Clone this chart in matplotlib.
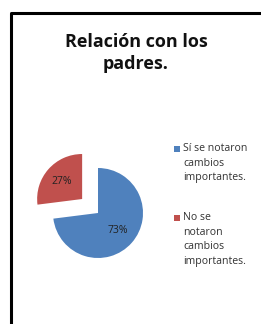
import matplotlib.pyplot as plt
from matplotlib.patches import Rectangle
from matplotlib.lines import Line2D

W, H = 261, 324

title = 'Relación con los\npadres.'
labels = ['Sí se notaron\ncambios\nimportantes.', 'No se\nnotaron\ncambios\nimportantes.']
values = [73, 27]
colors = ['#4F81BD', '#C0504D']
explode = [0, 0.47]

plt.rcParams['font.family'] = ['Open Sans', 'DejaVu Sans']

fig = plt.figure(figsize=(W / 100, H / 100), dpi=100)

# frame (only left and top edges visible in the crop)
fx, fy = 11 / W, 1 - 13 / H
fig.add_artist(Line2D([fx, fx, 1.01], [-0.01, fy, fy], color='black', lw=2.2))

fig.text(136 / W, 1 - 53 / H, title, ha='center', va='center', fontsize=13,
         fontweight='bold', linespacing=1.3, color='#111111')

# pie centred at (98, 213) px, radius ~45 px
r = 45
ax = fig.add_axes([(98 - 2 * r) / W, (H - 213 - 2 * r) / H, 4 * r / W, 4 * r / H])
wedges, texts, autotexts = ax.pie(values, colors=colors, explode=explode, startangle=90,
                                  counterclock=False, autopct='%1.0f%%', pctdistance=0.6,
                                  textprops=dict(fontsize=7.5, color='#222222'))
ax.set_xlim(-2, 2)
ax.set_ylim(-2, 2)
ax.set_aspect('equal')
ax.axis('off')

# legend, drawn by hand to keep the square on the first line
tops = [149, 218]
for lab, col, y in zip(labels, colors, tops):
    fig.add_artist(Rectangle((174 / W, 1 - (y + 3) / H), 6 / W, 6 / H,
                             facecolor=col, edgecolor='none'))
    fig.text(183 / W, 1 - (y - 6) / H, lab, ha='left', va='top', fontsize=7.6,
             color='#333333', linespacing=1.45)

fig.savefig('out.png', dpi=100, facecolor='white')
